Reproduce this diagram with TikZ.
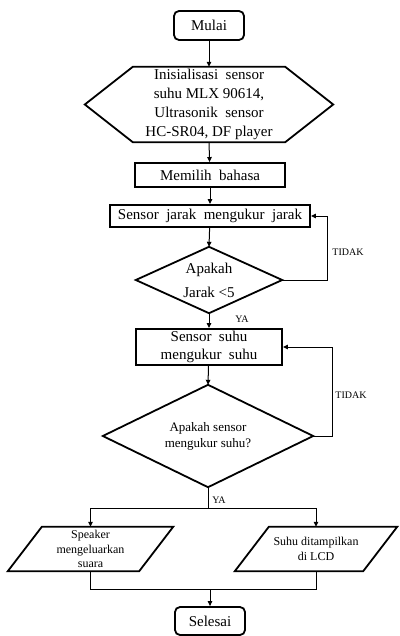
\documentclass[tikz,border=0pt]{standalone}
\usepackage{fontspec}
\setmainfont{Liberation Serif}
\usetikzlibrary{arrows.meta,calc}
\begin{document}
\begin{tikzpicture}[x=1pt,y=-1pt,
  txt/.style={inner sep=0pt, align=center, font=\fontsize{15}{18}\selectfont},
  term/.style={txt, draw, line width=1.8pt, rounded corners=5pt},
  procbox/.style={txt, draw, line width=1.9pt},
  outline/.style={draw, line width=1.8pt, line join=miter},
  conn/.style={line width=1pt, -{Triangle[length=5pt,width=4.5pt]}},
  plainline/.style={line width=1pt},
  lbl/.style={inner sep=0pt, font=\fontsize{10}{12}\selectfont}]
\useasboundingbox (0,0) rectangle (399,636);

% nodes
\node[term, minimum width=70pt, minimum height=29pt] (mulai) at (209,25.5) {Mulai};
\node[txt, minimum width=248pt, minimum height=75pt, font=\fontsize{15}{19}\selectfont] (init) at (209,104.5)
  {Inisialisasi\ \ sensor\\ suhu MLX 90614,\\ Ultrasonik\ \ sensor\\ HC-SR04, DF player};
\node[procbox, minimum width=150pt, minimum height=24pt] (pilih) at (210,175) {Memilih\ \ bahasa};
\node[procbox, minimum width=200pt, minimum height=22pt] (jarak) at (210,216) {Sensor\ \ jarak\ \ mengukur\ \ jarak};
\node[txt, minimum width=146pt, minimum height=66pt, font=\fontsize{15}{24}\selectfont] (d1) at (209,280) {Apakah\\Jarak <5};
\node[procbox, minimum width=146pt, minimum height=36pt] (suhu) at (209,347) {Sensor\ \ suhu\\ mengukur\ \ suhu};
\node[txt, minimum width=210pt, minimum height=102pt, font=\fontsize{13}{16}\selectfont] (d2) at (208,436) {Apakah sensor\\ mengukur suhu?};
\node[txt, minimum width=165pt, minimum height=44pt, font=\fontsize{12}{14.5}\selectfont] (spk) at (90.5,549) {Speaker\\ mengeluarkan\\ suara};
\node[txt, minimum width=162pt, minimum height=44pt, font=\fontsize{12}{14.5}\selectfont] (lcd) at (316,549) {Suhu ditampilkan\\ di LCD};
\node[term, minimum width=70pt, minimum height=28pt] (selesai) at (210,621) {Selesai};

% shape outlines
\path[outline] (init.west) -- ($(init.north west)+(48,0)$) -- ($(init.north east)+(-48,0)$)
  -- (init.east) -- ($(init.south east)+(-48,0)$) -- ($(init.south west)+(48,0)$) -- cycle;
\path[outline] (d1.north) -- (d1.east) -- (d1.south) -- (d1.west) -- cycle;
\path[outline] (d2.north) -- (d2.east) -- (d2.south) -- (d2.west) -- cycle;
\path[outline] (spk.south west) -- ($(spk.north west)+(34,0)$) -- (spk.north east) -- ($(spk.south east)+(-34,0)$) -- cycle;
\path[outline] (lcd.south west) -- ($(lcd.north west)+(34,0)$) -- (lcd.north east) -- ($(lcd.south east)+(-34,0)$) -- cycle;

% connectors
\draw[conn] (mulai) -- (init.north);
\draw[conn] (init.south) -- (pilih);
\draw[conn] (pilih) -- (jarak);
\draw[conn] (jarak) -- (d1.north);
\draw[conn] (d1.south) -- (suhu);
\draw[conn] (d1.east) -- ($(d1.east)+(45,0)$) |- (jarak.east);
\draw[conn] (suhu) -- (d2.north);
\draw[conn] (d2.east) -- ($(d2.east)+(19,0)$) |- (suhu.east);

\coordinate (split) at (208,508);
\draw[plainline] (d2.south) -- (split);
\draw[conn] (split) -| (spk.north);
\draw[conn] (split) -| (lcd.north);

\coordinate (join) at (210,589);
\draw[plainline] (spk.south) |- (join);
\draw[plainline] (lcd.south) |- (join);
\draw[conn] (join) -- (selesai);

% labels
\node[lbl] (t1) at (348,252) {TIDAK};
\node[lbl] (t2) at (351,395) {TIDAK};
\node[lbl] (y1) at (242,319) {YA};
\node[lbl] (y2) at (219,500) {YA};
\end{tikzpicture}
\end{document}
